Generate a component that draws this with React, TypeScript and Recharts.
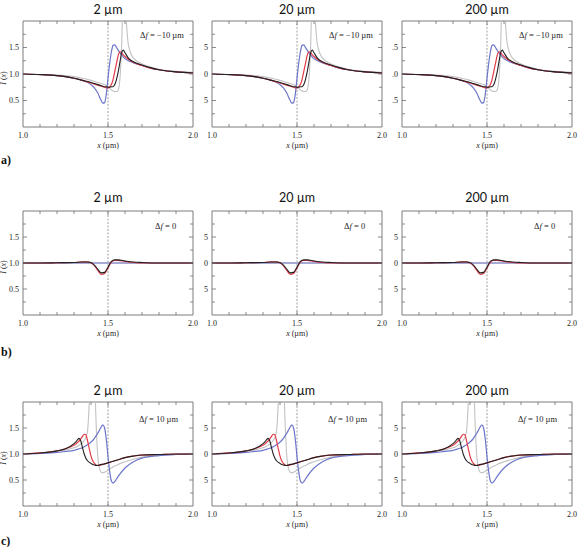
import React from "react";
import { LineChart, Line, XAxis, YAxis, ReferenceLine, ReferenceArea } from "recharts";

// ---- data ----
const apertures = ["2 µm", "20 µm", "200 µm"];
const defocusLabels = ["−10 µm", "0", "10 µm"];
const rowTags = ["a)", "b)", "c)"];

// Row a: Δf = −10 µm
const xA = [1.0, 1.1, 1.2, 1.25, 1.3, 1.35, 1.4, 1.42, 1.44, 1.46, 1.47, 1.48, 1.49, 1.5, 1.51, 1.52, 1.53, 1.54, 1.55, 1.56, 1.57, 1.58, 1.59, 1.6, 1.62, 1.65, 1.7, 1.75, 1.8, 1.9, 2.0];
const grayA = [1.0, 0.99, 0.98, 0.97, 0.95, 0.92, 0.88, 0.86, 0.84, 0.82, 0.81, 0.8, 0.78, 0.76, 0.73, 0.7, 0.68, 0.67, 0.67, 0.7, 0.9, 1.5, 2.6, 2.3, 1.55, 1.3, 1.19, 1.13, 1.09, 1.05, 1.03];
const blueA = [1.0, 0.99, 0.97, 0.95, 0.92, 0.88, 0.8, 0.74, 0.64, 0.5, 0.45, 0.46, 0.62, 0.92, 1.2, 1.42, 1.54, 1.55, 1.5, 1.45, 1.4, 1.36, 1.32, 1.29, 1.25, 1.21, 1.16, 1.11, 1.08, 1.04, 1.02];
const redA = [1.0, 0.99, 0.97, 0.95, 0.92, 0.88, 0.83, 0.81, 0.79, 0.77, 0.76, 0.75, 0.74, 0.74, 0.76, 0.8, 0.9, 1.05, 1.2, 1.35, 1.42, 1.4, 1.36, 1.33, 1.28, 1.22, 1.16, 1.11, 1.08, 1.04, 1.02];
const blackA = [1.0, 0.99, 0.97, 0.95, 0.92, 0.88, 0.84, 0.82, 0.8, 0.78, 0.77, 0.76, 0.76, 0.75, 0.75, 0.76, 0.76, 0.8, 0.9, 1.04, 1.22, 1.4, 1.45, 1.4, 1.3, 1.23, 1.17, 1.12, 1.08, 1.04, 1.02];

// Row b: Δf = 0
const xB = [1.0, 1.1, 1.2, 1.3, 1.35, 1.38, 1.4, 1.42, 1.44, 1.46, 1.48, 1.5, 1.52, 1.54, 1.56, 1.6, 1.65, 1.7, 1.8, 1.9, 2.0];
const grayB = [1.0, 1.0, 1.0, 1.0, 1.0, 1.0, 1.0, 1.0, 1.0, 1.0, 1.0, 1.0, 1.0, 1.0, 1.0, 1.0, 1.0, 1.0, 1.0, 1.0, 1.0];
const blueB = [1.0, 1.0, 1.0, 1.0, 1.0, 1.0, 1.0, 1.0, 1.0, 1.0, 1.0, 1.0, 1.0, 1.0, 1.0, 1.0, 1.0, 1.0, 1.0, 1.0, 1.0];
const redB = [1.0, 1.0, 1.005, 1.01, 1.02, 1.02, 1.0, 0.95, 0.86, 0.78, 0.8, 0.9, 1.02, 1.05, 1.05, 1.03, 1.01, 1.0, 1.0, 1.0, 1.0];
const blackB = [1.0, 1.0, 1.005, 1.01, 1.02, 1.02, 1.01, 0.96, 0.88, 0.81, 0.82, 0.92, 1.03, 1.06, 1.06, 1.04, 1.02, 1.01, 1.0, 1.0, 1.0];

// Row c: Δf = 10 µm
const xC = [1.0, 1.1, 1.2, 1.25, 1.3, 1.31, 1.32, 1.33, 1.34, 1.35, 1.36, 1.37, 1.38, 1.39, 1.4, 1.41, 1.42, 1.43, 1.44, 1.45, 1.46, 1.47, 1.48, 1.49, 1.5, 1.51, 1.52, 1.53, 1.54, 1.55, 1.56, 1.6, 1.65, 1.7, 1.8, 1.9, 2.0];
const grayC = [1.0, 1.02, 1.05, 1.08, 1.12, 1.13, 1.15, 1.17, 1.19, 1.22, 1.26, 1.32, 1.45, 2.0, 2.8, 3.0, 2.6, 1.6, 0.95, 0.72, 0.65, 0.64, 0.65, 0.67, 0.69, 0.71, 0.73, 0.75, 0.77, 0.78, 0.8, 0.85, 0.9, 0.94, 0.98, 0.99, 1.0];
const blueC = [1.0, 1.01, 1.03, 1.05, 1.07, 1.08, 1.09, 1.1, 1.11, 1.12, 1.14, 1.16, 1.18, 1.2, 1.23, 1.26, 1.3, 1.35, 1.4, 1.46, 1.52, 1.56, 1.5, 1.28, 0.95, 0.66, 0.48, 0.44, 0.47, 0.52, 0.57, 0.73, 0.85, 0.92, 0.97, 0.99, 1.0];
const redC = [1.0, 1.02, 1.06, 1.1, 1.17, 1.19, 1.22, 1.25, 1.29, 1.34, 1.38, 1.37, 1.25, 1.1, 0.96, 0.87, 0.82, 0.79, 0.78, 0.78, 0.79, 0.8, 0.81, 0.82, 0.83, 0.84, 0.85, 0.86, 0.87, 0.88, 0.89, 0.93, 0.96, 0.98, 0.99, 1.0, 1.0];
const blackC = [1.0, 1.02, 1.06, 1.1, 1.2, 1.23, 1.27, 1.3, 1.25, 1.12, 1.0, 0.92, 0.87, 0.84, 0.82, 0.8, 0.79, 0.78, 0.78, 0.79, 0.8, 0.8, 0.81, 0.82, 0.83, 0.84, 0.85, 0.86, 0.87, 0.88, 0.89, 0.93, 0.96, 0.98, 0.99, 1.0, 1.0];

const xTicks = [1.0, 1.1, 1.2, 1.3, 1.4, 1.5, 1.6, 1.7, 1.8, 1.9, 2.0];
const yTicks = [0.25, 0.5, 0.75, 1.0, 1.25, 1.5, 1.75];
const xLabelTicks = [1.0, 1.5, 2.0];
const yLabelTicks = [0.5, 1.0, 1.5];

const buildRows = (xs: number[], g: number[], b: number[], r: number[], k: number[]) =>
  xs.map((x, i) => ({ x, gray: g[i], blue: b[i], red: r[i], black: k[i] }));

const rowData = [
  buildRows(xA, grayA, blueA, redA, blackA),
  buildRows(xB, grayB, blueB, redB, blackB),
  buildRows(xC, grayC, blueC, redC, blackC),
];

// ---- layout ----
const ROW_TOPS = [21, 211, 402];
const ROW_H = [106, 104, 104];
const TITLE_Y = [10, 198, 391];
const TAG_BASE = [164, 356, 545];
const COL_LEFTS = [23, 212, 402];
const DF_DX = [117, 132, 116];
const DF_BASE = [37.5, 228.5, 422];
const FW = 170;
const PADL = 30;
const PADT = 5;
const PADR = 8;
const XAXH = 30;

const COLORS = { gray: "#c2c2c2", blue: "#6c75c9", red: "#e23b47", black: "#222222" };
const FRAME = "#6e6e6e";
const INK = "#1e1e1e";
const SERIF = "'Liberation Serif', 'DejaVu Serif', serif";
const SANS = "Lato, 'Open Sans', sans-serif";

const yMode = [
  ["full", "last", "dot"],
  ["full", "last", "last"],
  ["full", "last", "last"],
];

const fmtY = (v: number, mode: string) => {
  const s = v.toFixed(1);
  if (mode === "last") return s.slice(-1);
  if (mode === "dot") return s.slice(1);
  return s;
};

const near = (a: number, list: number[]) => list.some((t) => Math.abs(t - a) < 1e-6);

function Panel({ row, col }: { row: number; col: number }) {
  const fh = ROW_H[row];
  const data = rowData[row];
  const mode = yMode[row][col];

  const XTick = (props: any) => {
    const { x, y, payload } = props;
    const v = payload.value as number;
    const edge = Math.abs(v - 1) < 1e-6 || Math.abs(v - 2) < 1e-6;
    const len = Math.abs(v - 1.5) < 1e-6 ? 4 : 3;
    return (
      <g>
        {!edge && <line x1={x} y1={y} x2={x} y2={y - len} stroke={FRAME} strokeWidth={0.8} />}
        {!edge && <line x1={x} y1={y - fh} x2={x} y2={y - fh + len} stroke={FRAME} strokeWidth={0.8} />}
        {near(v, xLabelTicks) && (
          <text x={x} y={y + 11} textAnchor="middle" fontFamily={SERIF} fontSize={8} fill={INK}>
            {v.toFixed(1)}
          </text>
        )}
      </g>
    );
  };

  const YTick = (props: any) => {
    const { x, y, payload } = props;
    const v = payload.value as number;
    const len = near(v, yLabelTicks) ? 4 : 3;
    return (
      <g>
        <line x1={x} y1={y} x2={x + len} y2={y} stroke={FRAME} strokeWidth={0.8} />
        <line x1={x + FW} y1={y} x2={x + FW - len} y2={y} stroke={FRAME} strokeWidth={0.8} />
        {near(v, yLabelTicks) && (
          <text x={x - 4} y={y + 2.8} textAnchor="end" fontFamily={SERIF} fontSize={8} fill={INK}>
            {fmtY(v, mode)}
          </text>
        )}
      </g>
    );
  };

  return (
    <div style={{ position: "absolute", left: COL_LEFTS[col] - PADL, top: ROW_TOPS[row] - PADT }}>
      <LineChart
        width={PADL + FW + PADR}
        height={PADT + fh + XAXH}
        data={data}
        margin={{ top: PADT, right: PADR, bottom: 0, left: 0 }}
      >
        <XAxis
          dataKey="x"
          type="number"
          domain={[1, 2]}
          ticks={xTicks}
          interval={0}
          allowDataOverflow
          axisLine={false}
          tickLine={false}
          tickSize={0}
          tickMargin={0}
          height={XAXH}
          tick={<XTick />}
        />
        <YAxis
          type="number"
          domain={[0, 2]}
          ticks={yTicks}
          interval={0}
          allowDataOverflow
          axisLine={false}
          tickLine={false}
          tickSize={0}
          tickMargin={0}
          width={PADL}
          tick={<YTick />}
        />
        <ReferenceLine x={1.5} stroke="#8a8a8a" strokeWidth={0.8} strokeDasharray="2 1.5" />
        <Line dataKey="gray" type="monotone" stroke={COLORS.gray} strokeWidth={1.1} dot={false} isAnimationActive={false} />
        <Line dataKey="blue" type="monotone" stroke={COLORS.blue} strokeWidth={1.2} dot={false} isAnimationActive={false} />
        <Line dataKey="red" type="monotone" stroke={COLORS.red} strokeWidth={1.2} dot={false} isAnimationActive={false} />
        <Line dataKey="black" type="monotone" stroke={COLORS.black} strokeWidth={1.1} dot={false} isAnimationActive={false} />
        <ReferenceArea x1={1} x2={2} y1={0} y2={2} fill="none" stroke={FRAME} strokeWidth={0.9} />
      </LineChart>
    </div>
  );
}

export default function App() {
  return (
    <div
      style={{
        position: "absolute",
        left: 0,
        top: 0,
        width: 580,
        height: 547,
        overflow: "hidden",
        background: "#fff",
      }}
    >
      {[0, 1, 2].map((row) =>
        [0, 1, 2].map((col) => <Panel key={`p${row}${col}`} row={row} col={col} />)
      )}
      {[0, 1, 2].map((row) =>
        [0, 1, 2].map((col) => (
          <div
            key={`t${row}${col}`}
            style={{
              position: "absolute",
              whiteSpace: "nowrap",
              left: COL_LEFTS[col],
              width: FW,
              top: TITLE_Y[row] - 8,
              height: 16,
              lineHeight: "16px",
              textAlign: "center",
              fontFamily: SANS,
              fontSize: 12.5,
              color: "#111",
            }}
          >
            {apertures[col]}
          </div>
        ))
      )}
      <svg
        width={580}
        height={547}
        style={{ position: "absolute", left: 0, top: 0, pointerEvents: "none" }}
      >
        {[0, 1, 2].map((row) =>
          [0, 1, 2].map((col) => (
            <g key={`s${row}${col}`} fontFamily={SERIF} fill={INK}>
              <text x={COL_LEFTS[col] + DF_DX[row]} y={DF_BASE[row]} fontSize={8.5}>
                Δ<tspan fontStyle="italic">f</tspan> = {defocusLabels[row]}
              </text>
              <text
                x={COL_LEFTS[col] + FW / 2}
                y={ROW_TOPS[row] + ROW_H[row] + 21}
                fontSize={8}
                textAnchor="middle"
              >
                <tspan fontStyle="italic">x</tspan> (µm)
              </text>
            </g>
          ))
        )}
        {[0, 1, 2].map((row) => {
          const cy = ROW_TOPS[row] + ROW_H[row] / 2 + 4;
          return (
            <text
              key={`y${row}`}
              x={0}
              y={0}
              transform={`translate(6, ${cy}) rotate(-90)`}
              textAnchor="middle"
              fontFamily={SERIF}
              fontSize={8}
              fill={INK}
            >
              <tspan fontStyle="italic">I</tspan> (<tspan fontStyle="italic">x</tspan>)
            </text>
          );
        })}
        {[0, 1, 2].map((row) => (
          <text
            key={`tag${row}`}
            x={1}
            y={TAG_BASE[row]}
            fontFamily={SERIF}
            fontWeight="bold"
            fontSize={12}
            fill="#111"
          >
            {rowTags[row]}
          </text>
        ))}
      </svg>
    </div>
  );
}
